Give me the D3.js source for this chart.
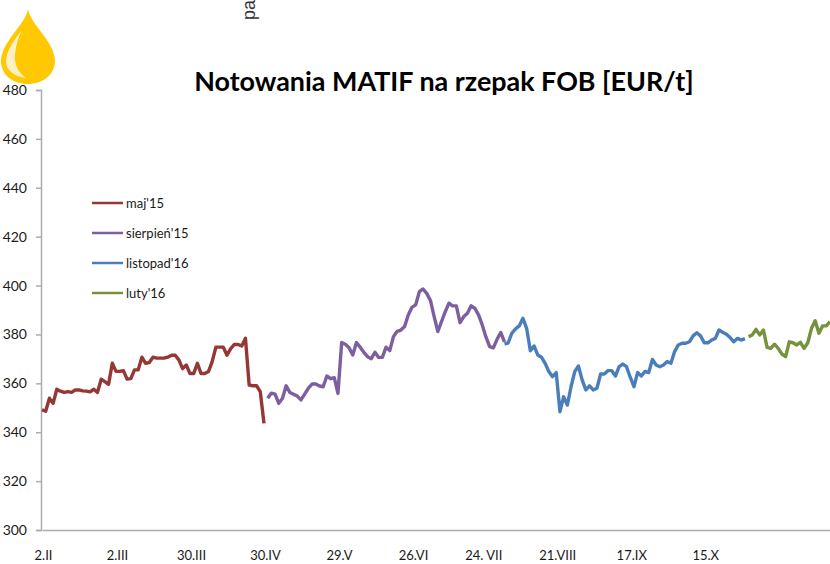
<!DOCTYPE html>
<html>
<head>
<meta charset="utf-8">
<script src="https://cdn.jsdelivr.net/npm/d3@7"></script>
<style>
  html, body { margin: 0; padding: 0; background: #fff; }
  svg { display: block; }
  text { font-family: Lato, "Open Sans", sans-serif; fill: #1a1a1a; }
</style>
</head>
<body>
<div id="chart"></div>
<script>
const seriesNames = ["maj'15", "sierpień'15", "listopad'16", "luty'16"];
const seriesColors = ["#953735", "#7d5fa0", "#4a7ebb", "#76923c"];
const seriesStart = [0, 61, 125, 191];

const maj15 = [349.1, 348.6, 353.9, 351.8, 357.6, 356.8, 356.3, 356.6, 356.3, 357.3, 357.3, 356.9, 356.8, 356.5, 357.6, 356.3,
    361.7, 360.7, 359.6, 368.2, 364.9, 364.9, 365.2, 361.7, 361.9, 365.5, 365.5, 370.7, 368.2, 368.5, 370.7, 370.3, 370.3, 370.3,
    370.7, 371.5, 371.5, 369.6, 366, 367.5, 364, 364, 368.2, 364, 364, 364.8, 368.9, 374.8, 374.8, 374.8, 371.5, 374.2, 375.9,
    375.9, 375.3, 378.4, 359.3, 359, 359, 356.6, 343.6];
const sierpien15 = [353.9, 356, 355.6, 351.8, 353.9, 359, 356.3, 355.5, 354.8, 353.2, 355.6, 358, 359.7, 359.7, 358.9, 358.6,
    363, 361.9, 362.3, 355.9, 376.7, 376, 374.6, 371.6, 376.7, 374.8, 372.7, 370.9, 370.1, 372.7, 370.6, 370.6, 374.8, 373.4,
    379.1, 381.3, 381.8, 383.2, 388, 391.1, 392.1, 397.5, 398.6, 396.8, 393.9, 387.3, 381.2, 385.3, 389.3, 392.8, 391.7, 391.7,
    384.8, 387.3, 388.7, 391.7, 390.7, 388, 383.9, 379, 375, 374.5, 378, 380.8, 377];
const listopad16 = [376.2, 376.5, 380.5, 382.3, 383.5, 386.6, 382.5, 373.3, 375.3, 371.6, 370.7, 368.2, 364.8, 362.7, 364.4, 348.4,
    354.5, 351.1, 358.6, 364.8, 367.1, 361.4, 357.3, 359, 357.3, 358, 363.8, 363.8, 365.2, 365.2, 363, 366.8, 367.9, 366.8,
    362.5, 358.6, 364.4, 363, 364.9, 364.4, 369.8, 367.5, 366.8, 367.5, 368.9, 368.2, 373, 375.7, 376.4, 376.4, 377, 379.4,
    380.7, 379.4, 376.6, 376.6, 377.7, 378.4, 381.8, 380.9, 380.1, 378.7, 377, 378.4, 377.7, 378.3];
const luty16 = [379.1, 379.8, 382.1, 379.8, 381.8, 374.7, 374.3, 376, 374.3, 372, 370.9, 377, 376.6, 375.7, 376.8, 374.3,
    376.6, 382.5, 385.6, 380.5, 383.5, 383.5, 385.2];
const allSeries = [maj15, sierpien15, listopad16, luty16];

const yTicks = [300, 320, 340, 360, 380, 400, 420, 440, 460, 480];
const xTickIndex = [0, 20, 40, 60, 80, 100, 119, 139, 159, 179];
const xTickLabels = ["2.II", "2.III", "30.III", "30.IV", "29.V", "26.VI", "24. VII", "21.VIII", "17.IX", "15.X"];

const width = 830;
const height = 564;

const x = d3.scaleLinear().domain([0, 213]).range([42, 830]);
const y = d3.scaleLinear().domain([300, 480]).range([530, 90]);

const svg = d3.select("#chart").append("svg")
    .attr("width", width)
    .attr("height", height);

// oil drop logo
const logo = svg.append("g");
logo.append("path")
    .attr("d", "M28,9 C30,24 55,42 55,61 C55,75 42,84 28,84 C13,84 1,75 1,61 C1,42 26,24 28,9 Z")
    .attr("fill", "#ffc800");
logo.append("path")
    .attr("d", "M22,30 C10,45 6,54 6,62 C6,70 15,77 26,78 C17,72 14,62 15,54 C16,45 18,38 22,30 Z")
    .attr("fill", "#fff0c4");

// clipped rotated label at the top
svg.append("text")
    .attr("transform", "translate(255,20) rotate(-90)")
    .style("font-family", "'Liberation Sans', Arial, sans-serif")
    .style("font-size", "18px")
    .style("fill", "#333")
    .text("pa");

svg.append("text")
    .attr("x", 444)
    .attr("y", 91)
    .attr("text-anchor", "middle")
    .style("font-size", "26.9px")
    .style("font-weight", 700)
    .style("fill", "#000")
    .text("Notowania MATIF na rzepak FOB [EUR/t]");

// axes
const yAxis = d3.axisLeft(y).tickValues(yTicks).tickSize(5).tickPadding(9);
const xAxis = d3.axisBottom(x)
    .tickValues(xTickIndex)
    .tickFormat((d, i) => xTickLabels[i])
    .tickSize(0)
    .tickPadding(21);

const gy = svg.append("g").attr("transform", "translate(41,0)").call(yAxis);
const gx = svg.append("g").attr("transform", "translate(0,530)").call(xAxis);

gy.selectAll("path, line").attr("stroke", "#adadad").attr("stroke-width", 1.5);
gx.select("path").attr("stroke", "#adadad").attr("stroke-width", 1.5);
gy.selectAll("text").style("font-size", "14px").style("font-family", "Lato, sans-serif");
gx.selectAll("text").attr("dx", 1).style("font-size", "13px").style("font-family", "Lato, sans-serif");

// lines
const line = d3.line()
    .x(d => x(d.i))
    .y(d => y(d.v));

allSeries.forEach((values, s) => {
    const points = values.map((v, k) => ({i: seriesStart[s] + k, v: v}));
    svg.append("path")
        .datum(points)
        .attr("fill", "none")
        .attr("stroke", seriesColors[s])
        .attr("stroke-width", 3.4)
        .attr("stroke-linejoin", "round")
        .attr("d", line);
});

// legend
const legendY = d3.scalePoint().domain(seriesNames).range([203, 293]);
const legend = svg.selectAll(".legend")
    .data(seriesNames)
    .enter().append("g")
    .attr("class", "legend")
    .attr("transform", d => `translate(92,${legendY(d)})`);

legend.append("line")
    .attr("x2", 31)
    .attr("stroke", (d, i) => seriesColors[i])
    .attr("stroke-width", 2.5);

legend.append("text")
    .attr("x", 34)
    .attr("dy", "0.35em")
    .style("font-size", "13px")
    .text(d => d);
</script>
</body>
</html>
